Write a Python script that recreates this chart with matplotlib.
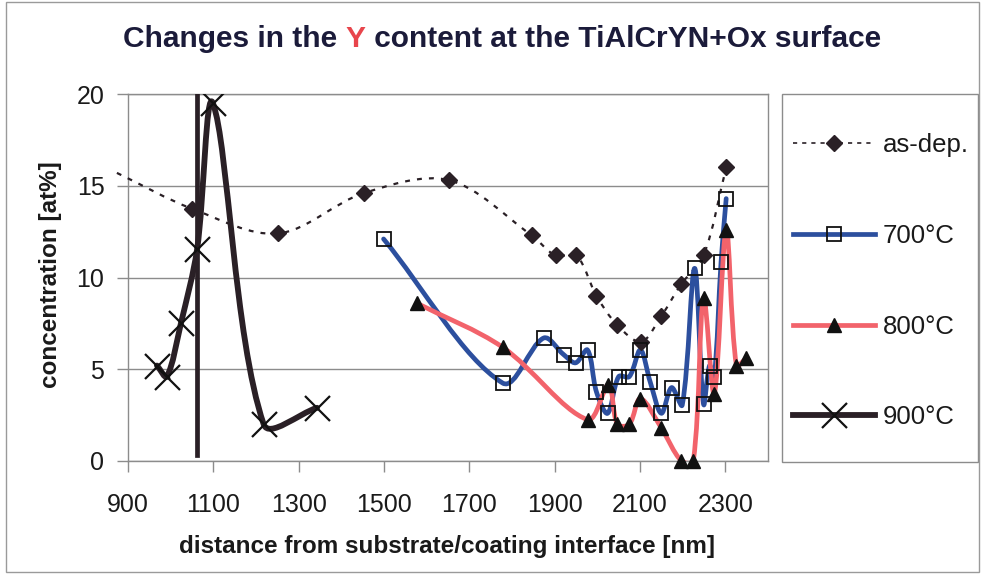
import numpy as np
import matplotlib
matplotlib.use("Agg")
import matplotlib.pyplot as plt
from matplotlib import font_manager
from matplotlib.path import Path
from matplotlib.patches import PathPatch, Rectangle
from matplotlib.lines import Line2D

# Y concentration profiles (distance in nm, concentration in at%)
asdep_x = [874, 1050, 1251, 1453, 1652, 1846, 1902, 1951, 1998, 2047, 2103, 2150, 2197, 2249, 2302]
asdep_y = [15.7, 13.75, 12.4, 14.6, 15.3, 12.3, 11.2, 11.2, 9.0, 7.4, 6.5, 7.9, 9.65, 11.2, 16.0]

t700_x = [1499, 1778, 1874, 1921, 1949, 1977, 1998, 2024, 2050, 2075, 2101,
          2124, 2150, 2174, 2199, 2228, 2249, 2263, 2274, 2290, 2302]
t700_y = [12.1, 4.25, 6.7, 5.8, 5.35, 6.05, 3.76, 2.6, 4.6, 4.6, 6.05,
          4.3, 2.6, 4.0, 3.05, 10.5, 3.1, 5.2, 4.6, 10.85, 14.3]

t800_x = [1577, 1778, 1977, 2026, 2047, 2075, 2101, 2150, 2197, 2225, 2249, 2274, 2302, 2326, 2349]
t800_y = [8.6, 6.2, 2.25, 4.15, 2.0, 2.0, 3.4, 1.8, 0.0, 0.0, 8.9, 3.65, 12.6, 5.2, 5.6]

t900_x = [968, 991, 1024, 1062, 1099, 1218, 1343]
t900_y = [5.2, 4.6, 7.5, 11.55, 19.5, 2.0, 2.9]

# vertical marker line of the 900°C profile
t900_wall_x = [1062, 1062]
t900_wall_y = [0.3, 20]

series_labels = ["as-dep.", "700°C", "800°C", "900°C"]
x_ticks = [900, 1100, 1300, 1500, 1700, 1900, 2100, 2300]
y_ticks = [0, 5, 10, 15, 20]

W, H = 981, 574

names = {f.name for f in font_manager.fontManager.ttflist}
narrow = "Liberation Sans Narrow" in names
FONT = ["Liberation Sans Narrow" if narrow else "Liberation Sans", "DejaVu Sans"]
plt.rcParams["font.family"] = FONT
# the regular face runs wider than a narrow one, so sizes are trimmed
TICK_FS = 21 if narrow else 18
LAB_FS = 19 if narrow else 17.5
LEG_FS = 19 if narrow else 18.5

DARK = "#2a2026"
BLUE = "#2c4f9e"
RED = "#f2636b"
GRID = "#8c8c8c"
TXT = "#1a1a1a"


def smooth_path(ax, xs, ys):
    # cubic bezier through the points, tangents weighted by segment length
    pts = ax.transData.transform(np.column_stack([xs, ys]).astype(float))
    n = len(pts)
    seg = np.hypot(*np.diff(pts, axis=0).T)
    verts = [pts[0]]
    codes = [Path.MOVETO]
    for i in range(n - 1):
        p1, p2 = pts[i], pts[i + 1]
        if i > 0:
            c1 = p1 + (p2 - pts[i - 1]) * seg[i] / (seg[i - 1] + seg[i]) / 3
        else:
            c1 = p1 + (p2 - p1) / 3
        if i + 2 < n:
            c2 = p2 - (pts[i + 2] - p1) * seg[i] / (seg[i] + seg[i + 1]) / 3
        else:
            c2 = p2 - (p2 - p1) / 3
        verts += [c1, c2, p2]
        codes += [Path.CURVE4] * 3
    verts = ax.transData.inverted().transform(np.array(verts))
    return Path(verts, codes)


def px(x, y):
    return x / W, 1 - y / H


fig = plt.figure(figsize=(W / 100, H / 100), dpi=100)
fig.patch.set_facecolor("white")

l, b = px(128, 461)
r, t = px(768, 94)
ax = fig.add_axes([l, b, r - l, t - b])

ax.set_xlim(900, 2400)
ax.set_ylim(0, 20)
ax.set_xticks(x_ticks)
ax.set_yticks(y_ticks)
ax.tick_params(axis="both", direction="out", length=8, width=1, color=GRID,
               labelsize=TICK_FS, labelcolor=TXT)
ax.tick_params(axis="x", pad=15)
ax.tick_params(axis="y", pad=9)
for sp in ax.spines.values():
    sp.set_color(GRID)
    sp.set_linewidth(1)
ax.yaxis.grid(True, color=GRID, lw=1)
ax.set_axisbelow(True)

# smoothed lines
ax.add_patch(PathPatch(smooth_path(ax, asdep_x, asdep_y), fill=False, ec=DARK, lw=1.6,
                       ls=(0, (2.2, 3.2)), clip_on=False, zorder=3))
ax.add_patch(PathPatch(smooth_path(ax, t700_x, t700_y), fill=False, ec=BLUE, lw=3.4,
                       capstyle="round", joinstyle="round", zorder=3))
ax.add_patch(PathPatch(smooth_path(ax, t800_x, t800_y), fill=False, ec=RED, lw=3.4,
                       capstyle="round", joinstyle="round", zorder=3))
ax.add_patch(PathPatch(smooth_path(ax, t900_x, t900_y), fill=False, ec=DARK, lw=4.2,
                       capstyle="round", joinstyle="round", zorder=3))
ax.plot(t900_wall_x, t900_wall_y, color=DARK, lw=3.4, zorder=3)

# markers
ax.plot(asdep_x, asdep_y, ls="none", marker="D", ms=8, color=DARK, zorder=5)
ax.plot(t700_x, t700_y, ls="none", marker="s", ms=9.5, mfc="none", mec="#111111",
        mew=1.3, zorder=5)
ax.plot(t800_x, t800_y, ls="none", marker="^", ms=10.5, color="#111111",
        clip_on=False, zorder=5)
ax.plot(t900_x, t900_y, ls="none", marker="x", ms=18, mew=1.6, color="#111111",
        zorder=5)

# legend box
lx0, ly0 = px(782, 462)
lx1, ly1 = px(978, 94)
fig.patches.append(Rectangle((lx0, ly0), lx1 - lx0, ly1 - ly0, transform=fig.transFigure,
                             fill=False, ec=GRID, lw=1))
handles = [
    Line2D([], [], color=DARK, lw=1.2, ls=(0, (2.5, 3)), marker="D", ms=8),
    Line2D([], [], color=BLUE, lw=3.4, marker="s", ms=9.5, mfc="none", mec="#111111", mew=1.3),
    Line2D([], [], color=RED, lw=3.4, marker="^", ms=10.5, mfc="#111111", mec="#111111"),
    Line2D([], [], color=DARK, lw=4.2, marker="x", ms=18, mew=1.6, mec="#111111"),
]
fig.legend(handles, series_labels, loc="upper left", bbox_to_anchor=px(793, 133),
           frameon=False, fontsize=LEG_FS, handlelength=3.2, handletextpad=0.3,
           labelspacing=2.6, borderpad=0, borderaxespad=0, labelcolor=TXT)

# axis titles
fig.text(*px(447, 547), "distance from substrate/coating interface [nm]", ha="center",
         va="center", fontsize=LAB_FS, fontweight="bold", color=TXT)
fig.text(*px(51, 275), "concentration [at%]", ha="center", va="center", rotation=90,
         fontsize=LAB_FS, fontweight="bold", color=TXT)

# title with coloured Y
renderer = fig.canvas.get_renderer()
parts = [("Changes in the ", "#1b1b3a"), ("Y", "#e8454c"),
         (" content at the TiAlCrYN+Ox surface", "#1b1b3a")]
ty = 1 - 47 / H
texts = [fig.text(0, ty, s, color=c, fontsize=21.5, fontweight="bold", va="baseline")
         for s, c in parts]
widths = [tx.get_window_extent(renderer).width for tx in texts]
x0 = 502 - sum(widths) / 2
for tx, w in zip(texts, widths):
    tx.set_x(x0 / W)
    x0 += w

# outer chart frame
fig.patches.append(Rectangle(px(6, 572), 973 / W, 570 / H, transform=fig.transFigure,
                             fill=False, ec="#9a9a9a", lw=1))

fig.savefig("out.png", dpi=100, facecolor="white")
